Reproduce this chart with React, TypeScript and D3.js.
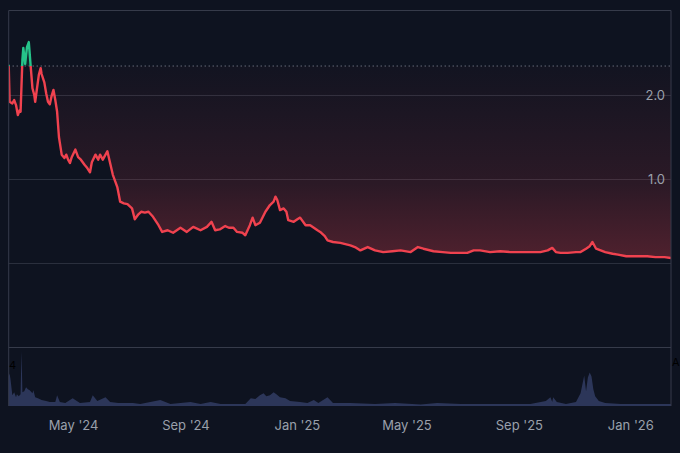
import React, { useRef, useEffect } from 'react';
import * as d3 from 'd3';

// price series
const priceDates = [
  '2024-02-20', '2024-02-21', '2024-02-24', '2024-02-26', '2024-02-28', '2024-03-01', '2024-03-03', '2024-03-04',
  '2024-03-06', '2024-03-07', '2024-03-09', '2024-03-11', '2024-03-13', '2024-03-15', '2024-03-17', '2024-03-19',
  '2024-03-20', '2024-03-22', '2024-03-24', '2024-03-26', '2024-03-27', '2024-03-30', '2024-04-01', '2024-04-03',
  '2024-04-05', '2024-04-07', '2024-04-09', '2024-04-11', '2024-04-13', '2024-04-15', '2024-04-16', '2024-04-18',
  '2024-04-21', '2024-04-23', '2024-04-25', '2024-04-27', '2024-04-29', '2024-05-03', '2024-05-06', '2024-05-09',
  '2024-05-13', '2024-05-16', '2024-05-19', '2024-05-21', '2024-05-25', '2024-05-28', '2024-05-30', '2024-06-02',
  '2024-06-05', '2024-06-07', '2024-06-10', '2024-06-13', '2024-06-18', '2024-06-21', '2024-06-25', '2024-06-29',
  '2024-07-04', '2024-07-07', '2024-07-11', '2024-07-14', '2024-07-18', '2024-07-22', '2024-07-27', '2024-08-02',
  '2024-08-06', '2024-08-12', '2024-08-18', '2024-08-26', '2024-09-02', '2024-09-09', '2024-09-17', '2024-09-24',
  '2024-09-29', '2024-10-03', '2024-10-08', '2024-10-14', '2024-10-18', '2024-10-23', '2024-10-27', '2024-11-02',
  '2024-11-05', '2024-11-10', '2024-11-13', '2024-11-16', '2024-11-21', '2024-11-27', '2024-12-02', '2024-12-06',
  '2024-12-08', '2024-12-10', '2024-12-13', '2024-12-17', '2024-12-20', '2024-12-22', '2024-12-28', '2025-01-01',
  '2025-01-04', '2025-01-10', '2025-01-15', '2025-01-19', '2025-01-23', '2025-01-26', '2025-01-31', '2025-02-03',
  '2025-02-09', '2025-02-17', '2025-02-28', '2025-03-05', '2025-03-11', '2025-03-19', '2025-03-27', '2025-04-05',
  '2025-04-15', '2025-04-24', '2025-05-05', '2025-05-13', '2025-05-19', '2025-05-30', '2025-06-09', '2025-06-18',
  '2025-06-29', '2025-07-06', '2025-07-13', '2025-07-20', '2025-07-31', '2025-08-11', '2025-08-22', '2025-09-02',
  '2025-09-13', '2025-09-24', '2025-10-02', '2025-10-07', '2025-10-11', '2025-10-16', '2025-10-24', '2025-11-02',
  '2025-11-07', '2025-11-13', '2025-11-17', '2025-11-20', '2025-11-24', '2025-11-29', '2025-12-04', '2025-12-12',
  '2025-12-18', '2025-12-27', '2026-01-06', '2026-01-19', '2026-01-28', '2026-02-07', '2026-02-14',
];
const prices = [
  2.36, 1.92, 1.90, 1.94, 1.88, 1.76, 1.82, 1.80,
  2.42, 2.56, 2.37, 2.57, 2.63, 2.35, 2.08, 2.00,
  1.92, 2.08, 2.24, 2.32, 2.25, 2.15, 2.02, 1.92,
  1.89, 1.99, 2.06, 1.94, 1.80, 1.50, 1.43, 1.29,
  1.25, 1.29, 1.23, 1.19, 1.26, 1.35, 1.26, 1.23,
  1.17, 1.13, 1.08, 1.20, 1.29, 1.23, 1.29, 1.23,
  1.29, 1.33, 1.19, 1.05, 0.90, 0.73, 0.71, 0.70,
  0.65, 0.52, 0.58, 0.61, 0.60, 0.61, 0.55, 0.45,
  0.37, 0.39, 0.36, 0.42, 0.37, 0.43, 0.39, 0.43,
  0.49, 0.39, 0.40, 0.44, 0.42, 0.42, 0.37, 0.36,
  0.33, 0.45, 0.54, 0.45, 0.48, 0.61, 0.69, 0.73,
  0.79, 0.75, 0.63, 0.65, 0.61, 0.51, 0.49, 0.52,
  0.54, 0.45, 0.45, 0.42, 0.39, 0.37, 0.32, 0.27,
  0.25, 0.24, 0.21, 0.19, 0.15, 0.19, 0.15, 0.13,
  0.14, 0.15, 0.13, 0.19, 0.17, 0.14, 0.13, 0.12,
  0.12, 0.12, 0.15, 0.15, 0.13, 0.14, 0.13, 0.13,
  0.13, 0.13, 0.15, 0.18, 0.13, 0.12, 0.12, 0.13,
  0.13, 0.17, 0.20, 0.25, 0.17, 0.15, 0.13, 0.11,
  0.10, 0.08, 0.08, 0.08, 0.07, 0.07, 0.06,
];

// volume series
const volumeDates = [
  '2024-02-20', '2024-02-21', '2024-02-22', '2024-02-24', '2024-02-26', '2024-02-28', '2024-02-29', '2024-03-02',
  '2024-03-04', '2024-03-05', '2024-03-06', '2024-03-08', '2024-03-10', '2024-03-12', '2024-03-14', '2024-03-17',
  '2024-03-18', '2024-03-20', '2024-03-23', '2024-03-27', '2024-04-01', '2024-04-05', '2024-04-11', '2024-04-13',
  '2024-04-16', '2024-04-22', '2024-04-30', '2024-05-08', '2024-05-19', '2024-05-22', '2024-05-27', '2024-06-05',
  '2024-06-10', '2024-06-19', '2024-07-05', '2024-07-13', '2024-07-24', '2024-08-04', '2024-08-15', '2024-09-06',
  '2024-09-17', '2024-09-28', '2024-10-09', '2024-11-05', '2024-11-11', '2024-11-16', '2024-11-21', '2024-11-25',
  '2024-11-28', '2024-12-02', '2024-12-06', '2024-12-09', '2024-12-13', '2024-12-19', '2024-12-24', '2025-01-04',
  '2025-01-12', '2025-01-19', '2025-01-24', '2025-02-03', '2025-02-09', '2025-02-28', '2025-03-27', '2025-04-18',
  '2025-05-16', '2025-06-03', '2025-06-29', '2025-07-21', '2025-08-11', '2025-09-13', '2025-09-30', '2025-10-05',
  '2025-10-07', '2025-10-08', '2025-10-12', '2025-10-22', '2025-11-02', '2025-11-07', '2025-11-11', '2025-11-13',
  '2025-11-15', '2025-11-17', '2025-11-19', '2025-11-21', '2025-11-23', '2025-11-27', '2025-12-04', '2025-12-21',
  '2026-01-12', '2026-02-03', '2026-02-14',
];
const volumes = [
  30, 33, 27, 11, 14, 9, 12, 10,
  12, 56, 14, 15, 19, 17, 16, 13,
  16, 9, 8, 6, 5, 4, 4, 11,
  4, 3, 8, 3, 4, 11, 5, 9,
  4, 3, 3, 2, 4, 6, 2, 4,
  2, 4, 2, 2, 8, 7, 11, 13,
  10, 11, 14, 12, 9, 8, 5, 4,
  3, 6, 3, 9, 3, 3, 2, 3,
  1.5, 3, 2, 2, 2, 2, 5, 9,
  4, 9, 4, 2, 4, 13, 31, 15,
  29, 34, 30, 17, 10, 5, 3, 2,
  2, 2, 2,
];

const gridValues = [2, 1, 0];
const yTickLabels = [2, 1];
const xTickDates = ['2024-05-01', '2024-09-01', '2025-01-01', '2025-05-01', '2025-09-01', '2026-01-01'];
const BASELINE = 2.345;

const BG = '#0e1320';
const BORDER = '#363b4a';
const GRID = '#2a2f3d';
const TEXT = '#9aa0ab';
const RED = '#f0424f';
const GREEN = '#26c48a';
const VOL = '#2c3659';

export default function App() {
  const ref = useRef<SVGSVGElement | null>(null);

  useEffect(() => {
    const svg = d3.select(ref.current);
    svg.selectAll('*').remove();

    const W = 680, H = 453;
    const left = 8.7, right = 671, top = 10, paneBottom = 347, volBottom = 406;
    const parse = d3.timeParse('%Y-%m-%d');

    const data = priceDates.map((d, i) => ({ date: parse(d)!, value: prices[i] }));
    const vol = volumeDates.map((d, i) => ({ date: parse(d)!, value: volumes[i] }));

    const x = d3.scaleTime()
      .domain([parse('2024-02-20')!, parse('2026-02-14')!])
      .range([left, right]);
    const y = d3.scaleLinear().domain([-1, 3]).range([paneBottom, 11]);
    const yv = d3.scaleLinear().domain([0, 60]).range([volBottom, paneBottom]);

    svg.attr('width', W).attr('height', H);
    svg.append('rect').attr('width', W).attr('height', H).attr('fill', BG);

    const defs = svg.append('defs');
    const grad = defs.append('linearGradient')
      .attr('id', 'redFill')
      .attr('gradientUnits', 'userSpaceOnUse')
      .attr('x1', 0).attr('x2', 0)
      .attr('y1', y(BASELINE)).attr('y2', y(0));
    grad.append('stop').attr('offset', '0%').attr('stop-color', RED).attr('stop-opacity', 0.02);
    grad.append('stop').attr('offset', '60%').attr('stop-color', RED).attr('stop-opacity', 0.13);
    grad.append('stop').attr('offset', '100%').attr('stop-color', RED).attr('stop-opacity', 0.3);

    defs.append('clipPath').attr('id', 'below')
      .append('rect')
      .attr('x', left).attr('y', y(BASELINE))
      .attr('width', right - left).attr('height', paneBottom - y(BASELINE));
    defs.append('clipPath').attr('id', 'above')
      .append('rect')
      .attr('x', left).attr('y', top)
      .attr('width', right - left).attr('height', y(BASELINE) - top);

    // grid lines
    svg.append('g')
      .selectAll('line')
      .data(gridValues)
      .join('line')
      .attr('x1', left).attr('x2', right)
      .attr('y1', d => y(d) + 0.5).attr('y2', d => y(d) + 0.5)
      .attr('stroke', GRID)
      .attr('stroke-width', 1);

    // baseline fill
    const area = d3.area<{ date: Date; value: number }>()
      .x(d => x(d.date))
      .y0(y(BASELINE))
      .y1(d => y(d.value));

    svg.append('path')
      .datum(data)
      .attr('clip-path', 'url(#below)')
      .attr('fill', 'url(#redFill)')
      .attr('d', area);
    svg.append('path')
      .datum(data)
      .attr('clip-path', 'url(#above)')
      .attr('fill', GREEN)
      .attr('fill-opacity', 0.12)
      .attr('d', area);

    // dotted baseline
    svg.append('line')
      .attr('x1', left).attr('x2', right)
      .attr('y1', y(BASELINE)).attr('y2', y(BASELINE))
      .attr('stroke', '#8d93a0')
      .attr('stroke-width', 1)
      .attr('stroke-dasharray', '1,3');

    const line = d3.line<{ date: Date; value: number }>()
      .x(d => x(d.date))
      .y(d => y(d.value));

    svg.append('path')
      .datum(data)
      .attr('clip-path', 'url(#below)')
      .attr('fill', 'none')
      .attr('stroke', RED)
      .attr('stroke-width', 2.4)
      .attr('stroke-linejoin', 'round')
      .attr('d', line);
    svg.append('path')
      .datum(data)
      .attr('clip-path', 'url(#above)')
      .attr('fill', 'none')
      .attr('stroke', GREEN)
      .attr('stroke-width', 2.4)
      .attr('stroke-linejoin', 'round')
      .attr('d', line);

    // volume
    svg.append('path')
      .datum(vol)
      .attr('fill', VOL)
      .attr('d', d3.area<{ date: Date; value: number }>()
        .x(d => x(d.date))
        .y0(volBottom)
        .y1(d => yv(d.value)));

    // frame
    const frame = svg.append('g').attr('stroke', BORDER).attr('stroke-width', 1).attr('fill', 'none');
    frame.append('path').attr('d', `M${left},${volBottom}V${top + 0.5}H${right}V${volBottom}`);
    frame.append('line')
      .attr('x1', left).attr('x2', right)
      .attr('y1', paneBottom + 0.5).attr('y2', paneBottom + 0.5);

    // y labels
    svg.append('g')
      .selectAll('text')
      .data(yTickLabels)
      .join('text')
      .attr('x', 665)
      .attr('y', d => y(d))
      .attr('dy', '0.35em')
      .attr('text-anchor', 'end')
      .attr('font-size', 13)
      .attr('font-family', 'Inter, Roboto, sans-serif')
      .attr('fill', TEXT)
      .text(d => d.toFixed(1));

    // x labels
    const fmt = d3.timeFormat("%b '%y");
    svg.append('g')
      .selectAll('text')
      .data(xTickDates.map(d => parse(d)!))
      .join('text')
      .attr('x', d => x(d))
      .attr('y', 425)
      .attr('dy', '0.35em')
      .attr('text-anchor', 'middle')
      .attr('font-size', 13)
      .attr('font-family', 'Inter, Roboto, sans-serif')
      .attr('fill', TEXT)
      .text(d => fmt(d));

    // stray dark marks seen on the chart edges
    svg.append('text')
      .attr('x', 9).attr('y', 369)
      .attr('font-size', 11)
      .attr('font-family', 'Inter, Roboto, sans-serif')
      .attr('fill', '#000')
      .text('4');
    svg.append('text')
      .attr('x', 672).attr('y', 366)
      .attr('font-size', 11)
      .attr('font-family', 'Inter, Roboto, sans-serif')
      .attr('fill', '#000')
      .text('A');
  }, []);

  return <svg ref={ref} style={{ position: 'absolute', left: 0, top: 0, display: 'block' }} />;
}
